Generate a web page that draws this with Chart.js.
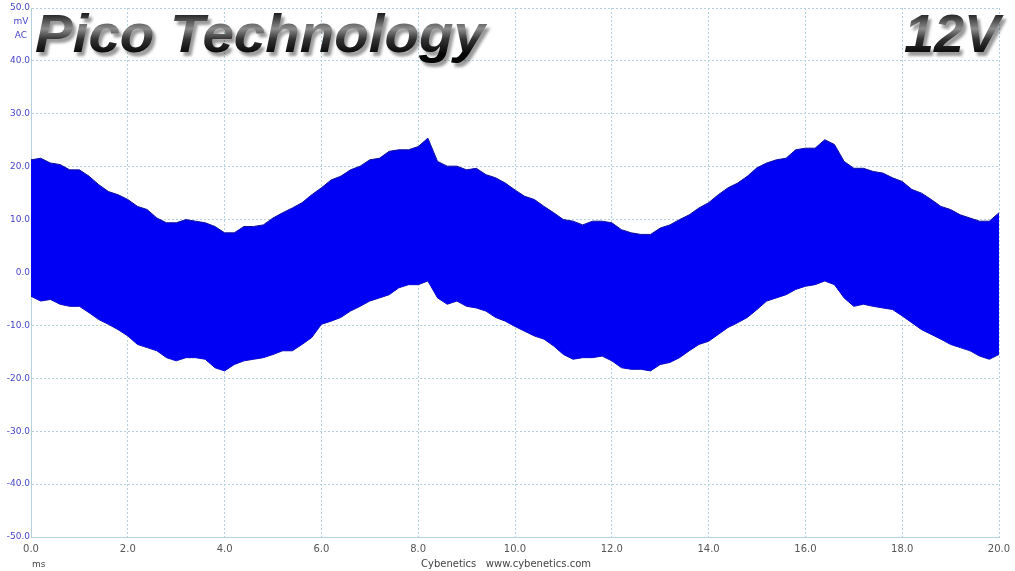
<!DOCTYPE html>
<html>
<head>
<meta charset="utf-8">
<script src="https://cdn.jsdelivr.net/npm/chart.js@4.4.1/dist/chart.umd.min.js"></script>
<style>
  html, body { margin: 0; padding: 0; background: #fff; }
  #wrap { width: 1015px; height: 571px; position: relative; }
</style>
</head>
<body>
<div id="wrap"><canvas id="scope" width="1015" height="571"></canvas></div>
<script>
// time axis in ms, one sample every 0.2 ms
const timeMs = [
  0.0, 0.2, 0.4, 0.6, 0.8, 1.0, 1.2, 1.4, 1.6, 1.8,
  2.0, 2.2, 2.4, 2.6, 2.8, 3.0, 3.2, 3.4, 3.6, 3.8,
  4.0, 4.2, 4.4, 4.6, 4.8, 5.0, 5.2, 5.4, 5.6, 5.8,
  6.0, 6.2, 6.4, 6.6, 6.8, 7.0, 7.2, 7.4, 7.6, 7.8,
  8.0, 8.2, 8.4, 8.6, 8.8, 9.0, 9.2, 9.4, 9.6, 9.8,
  10.0, 10.2, 10.4, 10.6, 10.8, 11.0, 11.2, 11.4, 11.6, 11.8,
  12.0, 12.2, 12.4, 12.6, 12.8, 13.0, 13.2, 13.4, 13.6, 13.8,
  14.0, 14.2, 14.4, 14.6, 14.8, 15.0, 15.2, 15.4, 15.6, 15.8,
  16.0, 16.2, 16.4, 16.6, 16.8, 17.0, 17.2, 17.4, 17.6, 17.8,
  18.0, 18.2, 18.4, 18.6, 18.8, 19.0, 19.2, 19.4, 19.6, 19.8,
  20.0
];

// upper edge of the ripple band (mV)
const upperMv = [
  21.3, 21.6, 20.7, 20.4, 19.4, 19.4, 18.2, 16.6, 15.3, 14.7,
  13.8, 12.5, 11.9, 10.3, 9.4, 9.4, 10.0, 9.7, 9.4, 8.7,
  7.5, 7.5, 8.7, 8.7, 9.0, 10.3, 11.3, 12.2, 13.2, 14.7,
  16.0, 17.5, 18.2, 19.4, 20.1, 21.3, 21.6, 22.9, 23.2, 23.2,
  23.8, 25.4, 21.0, 20.1, 20.1, 19.4, 19.7, 18.5, 17.9, 16.9,
  15.6, 14.4, 13.8, 12.5, 11.3, 10.0, 9.7, 9.0, 9.7, 9.7,
  9.4, 8.1, 7.5, 7.2, 7.2, 8.4, 9.0, 10.0, 10.9, 12.2,
  13.2, 14.7, 16.0, 16.9, 18.2, 19.8, 20.7, 21.3, 21.6, 23.2,
  23.5, 23.5, 25.1, 24.2, 21.0, 19.7, 19.7, 19.1, 18.8, 17.9,
  17.2, 15.7, 15.0, 13.8, 12.5, 11.9, 10.9, 10.3, 9.7, 9.7,
  11.3
];

// lower edge of the ripple band (mV)
const lowerMv = [
  -4.5, -5.4, -5.1, -6.0, -6.4, -6.4, -7.6, -8.9, -9.8, -10.8,
  -12.0, -13.6, -14.2, -14.8, -16.1, -16.7, -16.1, -16.1, -16.4, -18.0,
  -18.6, -17.4, -16.7, -16.4, -16.1, -15.5, -14.8, -14.8, -13.6, -12.3,
  -9.8, -9.2, -8.5, -7.3, -6.4, -5.4, -4.8, -4.2, -2.9, -2.3,
  -2.3, -1.6, -4.8, -6.0, -5.4, -6.4, -6.7, -7.3, -8.5, -9.2,
  -10.2, -11.1, -12.0, -12.6, -13.9, -15.5, -16.4, -16.1, -16.1, -15.8,
  -16.7, -18.0, -18.3, -18.3, -18.6, -17.4, -17.0, -16.1, -14.8, -13.6,
  -13.0, -11.7, -10.4, -9.5, -8.5, -7.0, -5.4, -4.8, -4.2, -3.2,
  -2.6, -2.3, -1.6, -2.3, -4.8, -6.4, -6.0, -6.4, -6.7, -7.0,
  -8.2, -9.5, -10.8, -11.7, -12.6, -13.6, -14.2, -14.8, -15.8, -16.4,
  -15.5
];

const xTicks = [0, 2, 4, 6, 8, 10, 12, 14, 16, 18, 20];
const yTicks = [-50, -40, -30, -20, -10, 0, 10, 20, 30, 40, 50];

const gridColor = "#b4d2de";
const labelBlue = "#4646c8";

const toPoints = (vals) => vals.map((v, i) => ({ x: timeMs[i], y: v }));

// extra text: units, footer and the big title
const overlay = {
  id: "overlay",
  afterDraw(chart) {
    const ctx = chart.ctx;
    ctx.save();
    ctx.fillStyle = labelBlue;
    ctx.font = "9px 'DejaVu Sans'";
    ctx.textAlign = "center";
    ctx.textBaseline = "middle";
    ctx.fillText("mV", 21, 22);
    ctx.fillText("AC", 21, 36);

    ctx.fillStyle = "#444";
    ctx.textAlign = "left";
    ctx.fillText("ms", 32, 565);
    ctx.textAlign = "center";
    ctx.font = "10px 'DejaVu Sans'";
    ctx.fillText("Cybenetics   www.cybenetics.com", 506, 564);

    drawTitle(ctx, "Pico Technology", 35, 485, 52);
    drawTitle(ctx, "12V", 904, 1000, 52);
    ctx.restore();
  }
};

function drawTitle(ctx, text, x0, x1, baseline) {
  ctx.save();
  ctx.font = "italic bold 54px 'Liberation Sans'";
  ctx.textAlign = "left";
  ctx.textBaseline = "alphabetic";
  const w = ctx.measureText(text).width;
  ctx.translate(x0, baseline);
  ctx.scale((x1 - x0) / w, 1);
  const g = ctx.createLinearGradient(0, -40, 0, 2);
  g.addColorStop(0, "#141414");
  g.addColorStop(0.4, "#8c8c8c");
  g.addColorStop(0.65, "#333");
  g.addColorStop(1, "#050505");
  ctx.shadowColor = "rgba(0,0,0,0.4)";
  ctx.shadowOffsetX = 3;
  ctx.shadowOffsetY = 4;
  ctx.shadowBlur = 3;
  ctx.fillStyle = g;
  ctx.fillText(text, 0, 0);
  ctx.restore();
}

const ctx = document.getElementById("scope");

new Chart(ctx, {
  type: "line",
  data: {
    datasets: [
      {
        label: "upper",
        data: toPoints(upperMv),
        fill: "+1",
        backgroundColor: "#0000f5",
        borderColor: "#1010a0",
        borderWidth: 1,
        pointRadius: 0,
        tension: 0,
      },
      {
        label: "lower",
        data: toPoints(lowerMv),
        fill: false,
        borderColor: "#1010a0",
        borderWidth: 1,
        pointRadius: 0,
        tension: 0,
      },
    ],
  },
  options: {
    responsive: false,
    animation: false,
    layout: { padding: { left: 0, right: 16, top: 8, bottom: 0 } },
    plugins: {
      legend: { display: false },
      tooltip: { enabled: false },
    },
    scales: {
      x: {
        type: "linear",
        min: 0,
        max: 20,
        afterBuildTicks: (scale) => { scale.ticks = xTicks.map((v) => ({ value: v })); },
        afterFit: (scale) => {
          scale.height = 34;
          scale.paddingRight = 0;
          scale.paddingLeft = 0;
        },
        grid: { color: gridColor, drawTicks: false, lineWidth: 1 },
        border: { display: true, dash: [2, 2], color: gridColor },
        ticks: {
          padding: 6,
          color: "#555",
          font: { family: "DejaVu Sans", size: 10 },
          maxRotation: 0,
          callback: (v) => Number(v).toFixed(1),
        },
      },
      y: {
        type: "linear",
        min: -50,
        max: 50,
        afterBuildTicks: (scale) => { scale.ticks = yTicks.map((v) => ({ value: v })); },
        afterFit: (scale) => { scale.width = 31; },
        grid: { color: gridColor, drawTicks: false, lineWidth: 1 },
        border: { display: true, dash: [2, 2], color: gridColor },
        ticks: {
          padding: 1,
          color: labelBlue,
          font: { family: "DejaVu Sans", size: 9 },
          callback: (v) => Number(v).toFixed(1),
        },
      },
    },
  },
  plugins: [overlay],
});
</script>
</body>
</html>
